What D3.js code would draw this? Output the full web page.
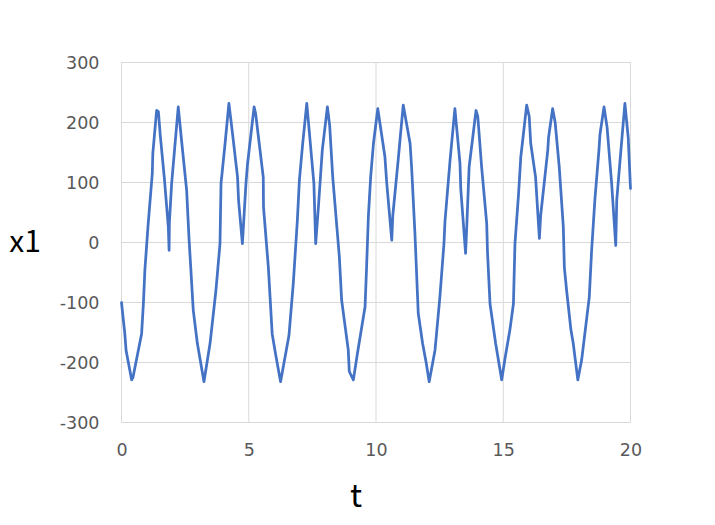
<!DOCTYPE html>
<html><head><meta charset="utf-8">
<script src="https://cdn.jsdelivr.net/npm/d3@7"></script>
<style>body{margin:0;background:#fff}svg{display:block}</style>
</head><body>
<script>
const tValues = [0,0.13,0.18,0.40,0.45,0.79,0.86,0.92,1.05,1.21,1.23,1.38,1.45,1.52,1.68,1.84,1.87,1.88,1.97,2.23,2.36,2.56,2.65,2.82,2.98,3.24,3.48,3.71,3.87,3.91,4.07,4.22,4.33,4.56,4.60,4.75,4.89,4.95,5.21,5.27,5.57,5.58,5.77,5.92,6.05,6.25,6.58,6.75,6.91,6.99,7.12,7.28,7.42,7.56,7.63,7.73,7.89,8.09,8.18,8.30,8.56,8.65,8.91,8.95,9.11,9.27,9.57,9.63,9.70,9.79,9.90,10.07,10.35,10.42,10.62,10.66,10.87,10.92,11.07,11.34,11.40,11.53,11.66,11.83,11.97,12.09,12.32,12.51,12.67,12.71,12.91,13.10,13.30,13.33,13.52,13.56,13.66,13.93,14.00,14.15,14.35,14.38,14.48,14.70,14.94,15.07,15.26,15.40,15.46,15.60,15.69,15.75,15.92,16.02,16.08,16.27,16.42,16.47,16.75,16.78,16.94,17.04,17.20,17.36,17.40,17.49,17.66,17.75,17.93,18.08,18.38,18.47,18.60,18.76,18.80,18.96,19.08,19.26,19.42,19.46,19.59,19.78,19.91,20.0];
const x1Values = [-100,-152,-180,-229,-225,-152,-102,-45,32,115,148,220,218,180,109,26,-13,32,98,226,170,87,9,-113,-168,-232,-168,-80,-2,98,165,232,193,109,70,-2,98,130,226,215,109,59,-41,-152,-185,-232,-155,-68,37,104,165,232,165,98,-2,55,154,226,195,109,-24,-96,-179,-215,-229,-185,-107,-41,43,109,165,223,143,100,4,45,137,160,229,165,125,15,-118,-168,-200,-232,-179,-91,-2,35,137,223,132,90,-18,20,126,220,210,126,32,-15,-102,-168,-229,-193,-146,-102,-2,80,143,165,229,210,165,109,7,45,154,175,223,200,126,26,-41,-80,-146,-168,-229,-196,-91,-15,71,154,180,226,192,98,-5,71,137,232,175,90];
const xTicks = [0,5,10,15,20];
const yTicks = [-300,-200,-100,0,100,200,300];
const xLabel = "t", yLabel = "x1";

const W = 715, H = 525;
const m = {l:121.5, r:715-630.5, t:62.5, b:525-422.5};
const svg = d3.select("body").append("svg").attr("width",W).attr("height",H);
const x = d3.scaleLinear().domain([0,20]).range([m.l, W-m.r]);
const y = d3.scaleLinear().domain([-300,300]).range([H-m.b, m.t]);

// gridlines
svg.append("g").selectAll("line.h").data(yTicks).join("line")
  .attr("x1",x(0)).attr("x2",x(20)).attr("y1",d=>y(d)).attr("y2",d=>y(d))
  .attr("stroke","#d9d9d9").attr("stroke-width",1);
svg.append("g").selectAll("line.v").data(xTicks).join("line")
  .attr("y1",y(-300)).attr("y2",y(300)).attr("x1",d=>x(d)).attr("x2",d=>x(d))
  .attr("stroke","#d9d9d9").attr("stroke-width",1);

// tick labels
const fmt = d => String(d);
const yAxis = d3.axisLeft(y).tickValues(yTicks).tickFormat(fmt).tickSize(0).tickPadding(22);
const gy = svg.append("g").attr("transform",`translate(${m.l},0)`).call(yAxis);
const xAxis = d3.axisBottom(x).tickValues(xTicks).tickFormat(fmt).tickSize(0).tickPadding(21);
const gx = svg.append("g").attr("transform",`translate(0,${H-m.b})`).call(xAxis);
[gy,gx].forEach(g=>{
  g.select(".domain").remove();
  g.selectAll("text").attr("fill","#595959").style("font-family","'DejaVu Sans', sans-serif").style("font-size","17.5px");
});

// line
const data = tValues.map((t,i)=>({t, v:x1Values[i]}));
svg.append("path").datum(data)
  .attr("fill","none").attr("stroke","#4472c4").attr("stroke-width",2.75)
  .attr("stroke-linejoin","round").attr("stroke-linecap","round")
  .attr("d", d3.line().x(d=>x(d.t)).y(d=>y(d.v)));

// titles
svg.append("text").attr("x",356).attr("y",507).attr("text-anchor","middle")
  .style("font-family","'Noto Sans CJK JP', sans-serif").style("font-size","32px").attr("fill","#000").text(xLabel);
svg.append("text").attr("x",25).attr("y",252).attr("text-anchor","middle")
  .style("font-family","'Noto Sans CJK JP', sans-serif").style("font-size","30px").attr("fill","#000").text(yLabel);
</script>
</body></html>
